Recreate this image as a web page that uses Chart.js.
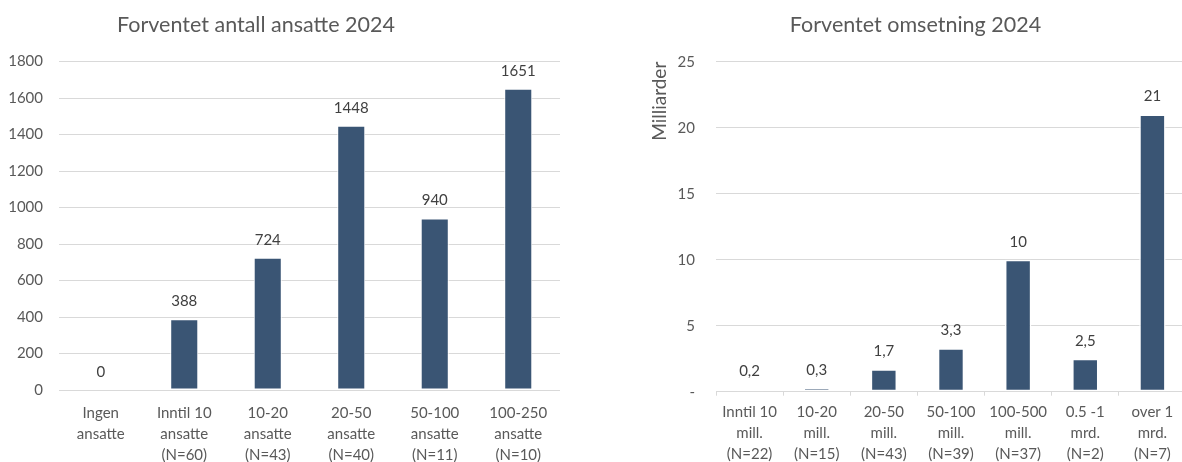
<!DOCTYPE html>
<html>
<head>
<meta charset="utf-8">
<title>Forventet 2024</title>
<script src="https://cdn.jsdelivr.net/npm/chart.js@4.4.1/dist/chart.umd.min.js"></script>
<style>
  html, body { margin: 0; padding: 0; background: #fff; width: 1182px; height: 462px; overflow: hidden; position: relative; }
  #left { position: absolute; left: 0; top: 0; width: 580px; height: 462px; }
  #right { position: absolute; left: 640px; top: 0; width: 546px; height: 462px; }
</style>
</head>
<body>
<div id="left"><canvas id="ansatteChart"></canvas></div>
<div id="right"><canvas id="omsetningChart"></canvas></div>
<script>
// data
var ansatteTitle = 'Forventet antall ansatte 2024';
var ansatteLabels = [
  ['Ingen', 'ansatte'],
  ['Inntil 10', 'ansatte', '(N=60)'],
  ['10-20', 'ansatte', '(N=43)'],
  ['20-50', 'ansatte', '(N=40)'],
  ['50-100', 'ansatte', '(N=11)'],
  ['100-250', 'ansatte', '(N=10)']
];
var ansatteValues = [0, 388, 724, 1448, 940, 1651];

var omsetningTitle = 'Forventet omsetning 2024';
var omsetningAxisTitle = 'Milliarder';
var omsetningLabels = [
  ['Inntil 10', 'mill.', '(N=22)'],
  ['10-20', 'mill.', '(N=15)'],
  ['20-50', 'mill.', '(N=43)'],
  ['50-100', 'mill.', '(N=39)'],
  ['100-500', 'mill.', '(N=37)'],
  ['0.5 -1', 'mrd.', '(N=2)'],
  ['over 1', 'mrd.', '(N=7)']
];
var omsetningValues = [0.2, 0.3, 1.7, 3.3, 10, 2.5, 21];
var omsetningTicks = ['-', '5', '10', '15', '20', '25'];

var FONT = 'Lato';
var barColor = '#3a5574';
var gridColor = '#d9d9d9';
var textColor = '#595959';

// title drawn at a fixed x, like the excel original
var fixedTitle = {
  id: 'fixedTitle',
  afterDraw: function (chart, args, opts) {
    var ctx = chart.ctx;
    ctx.save();
    ctx.font = '21.5px ' + FONT;
    ctx.fillStyle = textColor;
    ctx.textAlign = 'center';
    ctx.textBaseline = 'middle';
    ctx.fillText(opts.text, opts.x, opts.y);
    ctx.restore();
  }
};

// numbers above the bars
var valueLabels = {
  id: 'valueLabels',
  afterDatasetsDraw: function (chart, args, opts) {
    var ctx = chart.ctx;
    var meta = chart.getDatasetMeta(0);
    var data = chart.data.datasets[0].data;
    ctx.save();
    ctx.font = '15px ' + FONT;
    ctx.fillStyle = '#404040';
    ctx.textAlign = 'center';
    ctx.textBaseline = 'middle';
    meta.data.forEach(function (bar, i) {
      ctx.fillText(String(data[i]).replace('.', ','), bar.x, bar.y - 18);
    });
    ctx.restore();
  }
};

Chart.defaults.font.family = FONT;
Chart.defaults.font.size = 15;
Chart.defaults.color = textColor;

new Chart(document.getElementById('ansatteChart'), {
  type: 'bar',
  data: {
    labels: ansatteLabels,
    datasets: [{
      data: ansatteValues,
      backgroundColor: barColor,
      borderColor: '#ffffff',
      borderWidth: 1,
      borderSkipped: false,
      categoryPercentage: 1,
      barPercentage: 0.336
    }]
  },
  options: {
    responsive: true,
    maintainAspectRatio: false,
    animation: false,
    layout: { padding: { top: 61.5, right: 20, left: 0, bottom: 0 } },
    plugins: {
      legend: { display: false },
      tooltip: { enabled: false },
      fixedTitle: { text: ansatteTitle, x: 256, y: 25 },
      valueLabels: {}
    },
    scales: {
      x: {
        grid: { display: false, drawTicks: false },
        border: { display: false },
        ticks: { padding: 12.5, font: { lineHeight: 1.4 }, maxRotation: 0, autoSkip: false },
        afterFit: function (s) { s.height = 72; }
      },
      y: {
        min: 0,
        max: 1800,
        ticks: { stepSize: 200, padding: 16, callback: function (v) { return String(v); } },
        grid: { color: gridColor, drawTicks: false },
        border: { display: false },
        afterFit: function (s) { s.width = 59; }
      }
    }
  },
  plugins: [fixedTitle, valueLabels]
});

new Chart(document.getElementById('omsetningChart'), {
  type: 'bar',
  data: {
    labels: omsetningLabels,
    datasets: [{
      data: omsetningValues,
      backgroundColor: barColor,
      borderColor: '#ffffff',
      borderWidth: 1.5,
      borderSkipped: false,
      categoryPercentage: 1,
      barPercentage: 0.393
    }]
  },
  options: {
    responsive: true,
    maintainAspectRatio: false,
    animation: false,
    layout: { padding: { top: 61.7, right: 0, left: 0, bottom: 0 } },
    plugins: {
      legend: { display: false },
      tooltip: { enabled: false },
      fixedTitle: { text: omsetningTitle, x: 275.5, y: 25 },
      valueLabels: {}
    },
    scales: {
      x: {
        grid: { color: gridColor, drawOnChartArea: false, offset: true, tickLength: 4 },
        border: { display: true, color: gridColor },
        ticks: { padding: 5.5, font: { lineHeight: 1.4 }, maxRotation: 0, autoSkip: false },
        afterFit: function (s) { s.height = 70.3; }
      },
      y: {
        min: 0,
        max: 25,
        ticks: {
          stepSize: 5,
          padding: 21,
          callback: function (v, i) { return omsetningTicks[i]; }
        },
        grid: { color: gridColor, drawTicks: false },
        border: { display: false },
        title: {
          display: true,
          text: omsetningAxisTitle,
          align: 'end',
          color: textColor,
          font: { size: 19 },
          padding: { top: 8.5, bottom: 0 }
        },
        afterFit: function (s) { s.width = 76; }
      }
    }
  },
  plugins: [fixedTitle, valueLabels]
});
</script>
</body>
</html>
